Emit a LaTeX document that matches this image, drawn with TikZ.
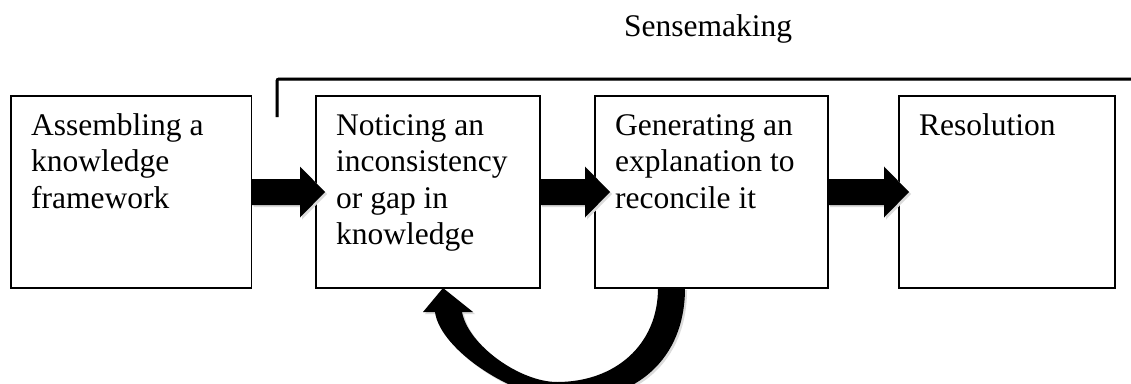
\documentclass[tikz,border=0pt]{standalone}
\usepackage{fontspec}
\setmainfont{Liberation Serif}
\usetikzlibrary{calc}
\newcommand\boxfont{\fontsize{31.5}{36.5}\selectfont}
\begin{document}
\begin{tikzpicture}[x=1pt,y=-1pt,
  box/.style={draw, line width=1.6pt, minimum width=#1, minimum height=192pt, inner sep=0pt, outer sep=0pt, anchor=north west},
  txt/.style={font=\boxfont, align=left, inner sep=0pt, anchor=north west},
  shadowfill/.style={fill=black!14},
  blk/.style={fill=black}]
\useasboundingbox[fill=white] (0,0) rectangle (1131,383);
% boxes
\node[box=240.5pt] (b1) at (11,96) {};
\node[box=224pt] (b2) at (316,96) {};
\node[box=233pt] (b3) at (595,96) {};
\node[box=216pt] (b4) at (899,96) {};
% texts
\node[txt] (t1) at (31,109.5) {\strut Assembling a\\knowledge\\framework};
\node[txt] (t2) at (336,109.5) {\strut Noticing an\\inconsistency\\or gap in\\knowledge};
\node[txt] (t3) at (615,109.5) {\strut Generating an\\explanation to\\reconcile it};
\node[txt] (t4) at (919,109.5) {\strut Resolution};
\node[font=\boxfont, anchor=base west, inner sep=0pt] (sm) at (624,36) {Sensemaking};
% bracket
\coordinate (brA) at (277,117);
\coordinate (brB) at (277,79);
\coordinate (brC) at (1140,79);
\draw[black!15, line width=3pt, rounded corners=2pt, shift={(2,2)}] (brA) -- (brB) -- (brC);
\draw[line width=3pt, rounded corners=2pt] (brA) -- (brB) -- (brC);
% block arrows
\foreach \s/\e/\d in {b1/b2/9pt, b2/b3/15pt, b3/b4/10pt}{
  \foreach \style/\o in {shadowfill/2pt, blk/0pt}{
    \fill[\style] let \p1=(\s.east), \p2=([xshift=\d]\e.west) in
      (\x1+\o,\y1-13pt-\o) -- (\x2-25pt+\o,\y1-13pt-\o) -- (\x2-25pt+\o,\y1-25.5pt-\o) --
      (\x2+\o,\y1-\o) -- (\x2-25pt+\o,\y1+25.5pt-\o) -- (\x2-25pt+\o,\y1+13pt-\o) --
      (\x1+\o,\y1+13pt-\o) -- cycle;
  }
}
% curved arrow from b3 back to b2
\foreach \style/\o in {shadowfill/2, blk/0}{
\begin{scope}[shift={(\o,\o)}]
\fill[\style] (685,288) .. controls (685,360) and (635,400) .. (570,400)
  .. controls (515,400) and (440,350) .. (435,312)
  -- (423,312) -- (443,288) -- (473,312) -- (462,312)
  .. controls (468,345) and (520,382) .. (557,382)
  .. controls (615,382) and (658,345) .. (658,288) -- cycle;
\end{scope}
}
\end{tikzpicture}
\end{document}
